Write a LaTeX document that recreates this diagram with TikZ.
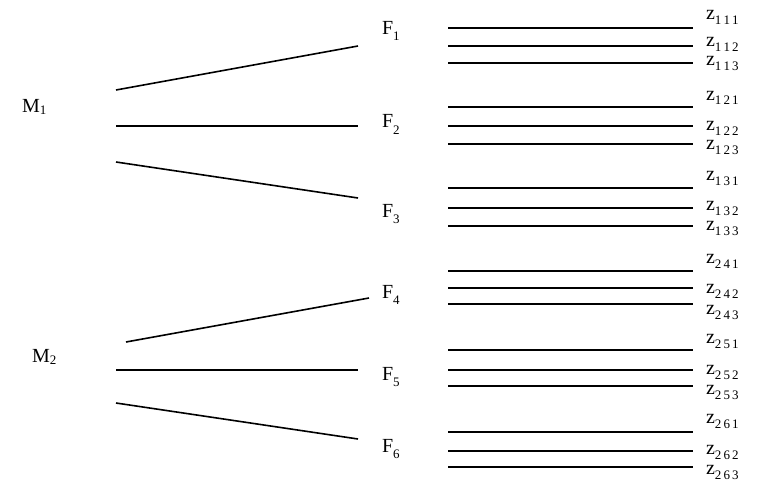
\documentclass[tikz,border=0pt]{standalone}
\usepackage{fontspec}
\setmainfont{Liberation Serif}
\newcommand{\bigtxt}{\fontsize{20}{20}\selectfont}
\newcommand{\subtxt}{\fontsize{13}{13}\selectfont}
\newcommand{\zlab}[3]{\bigtxt z\raisebox{-5pt}{\subtxt #1\,#2\,#3}}
\begin{document}
\begin{tikzpicture}[x=1pt,y=-1pt,
  lab/.style={anchor=base west,inner sep=0pt,outer sep=0pt},
  ln/.style={line width=1.6pt,black}]
\useasboundingbox[fill=white] (0,0) rectangle (783,484);
% M labels
\node[lab] (M1) at (22,112) {\bigtxt M\raisebox{-2pt}{\subtxt 1}};
\node[lab] (M2) at (32,362) {\bigtxt M\raisebox{-2pt}{\subtxt 2}};
% F labels
\node[lab] (F1) at (382,35) {\bigtxt F\raisebox{-6pt}{\subtxt 1}};
\node[lab] (F2) at (382,128) {\bigtxt F\raisebox{-6pt}{\subtxt 2}};
\node[lab] (F3) at (382,217) {\bigtxt F\raisebox{-6pt}{\subtxt 3}};
\node[lab] (F4) at (382,298) {\bigtxt F\raisebox{-6pt}{\subtxt 4}};
\node[lab] (F5) at (382,380) {\bigtxt F\raisebox{-6pt}{\subtxt 5}};
\node[lab] (F6) at (382,452) {\bigtxt F\raisebox{-6pt}{\subtxt 6}};
% branch endpoints
\coordinate (m1a) at (116,90);  \coordinate (f1e) at (358,46);
\coordinate (m1b) at (116,126); \coordinate (f2e) at (358,126);
\coordinate (m1c) at (116,162); \coordinate (f3e) at (358,198);
\coordinate (m2a) at (126,342); \coordinate (f4e) at (369,298);
\coordinate (m2b) at (116,370); \coordinate (f5e) at (358,370);
\coordinate (m2c) at (116,403); \coordinate (f6e) at (358,439);
\draw[ln] (m1a) -- (f1e);
\draw[ln] (m1b) -- (f2e);
\draw[ln] (m1c) -- (f3e);
\draw[ln] (m2a) -- (f4e);
\draw[ln] (m2b) -- (f5e);
\draw[ln] (m2c) -- (f6e);
% right-hand lines and z labels
\foreach \g/\i/\j/\ya/\yb/\yc/\ba/\bb/\bc in {
  1/1/1/28/46/63/20/47/66,
  2/1/2/107/126/144/100/130/149,
  3/1/3/188/208/226/180/210/230,
  4/2/4/271/288/304/263/293/314,
  5/2/5/350/370/386/343/374/394,
  6/2/6/432/451/467/423/454/474}{
  \coordinate (r\g a1) at (448,\ya); \coordinate (r\g a2) at (693,\ya);
  \coordinate (r\g b1) at (448,\yb); \coordinate (r\g b2) at (693,\yb);
  \coordinate (r\g c1) at (448,\yc); \coordinate (r\g c2) at (693,\yc);
  \draw[ln] (r\g a1) -- (r\g a2);
  \draw[ln] (r\g b1) -- (r\g b2);
  \draw[ln] (r\g c1) -- (r\g c2);
  \node[lab] (z\i\j1) at (706,\ba) {\zlab{\i}{\j}{1}};
  \node[lab] (z\i\j2) at (706,\bb) {\zlab{\i}{\j}{2}};
  \node[lab] (z\i\j3) at (706,\bc) {\zlab{\i}{\j}{3}};
}
\end{tikzpicture}
\end{document}
